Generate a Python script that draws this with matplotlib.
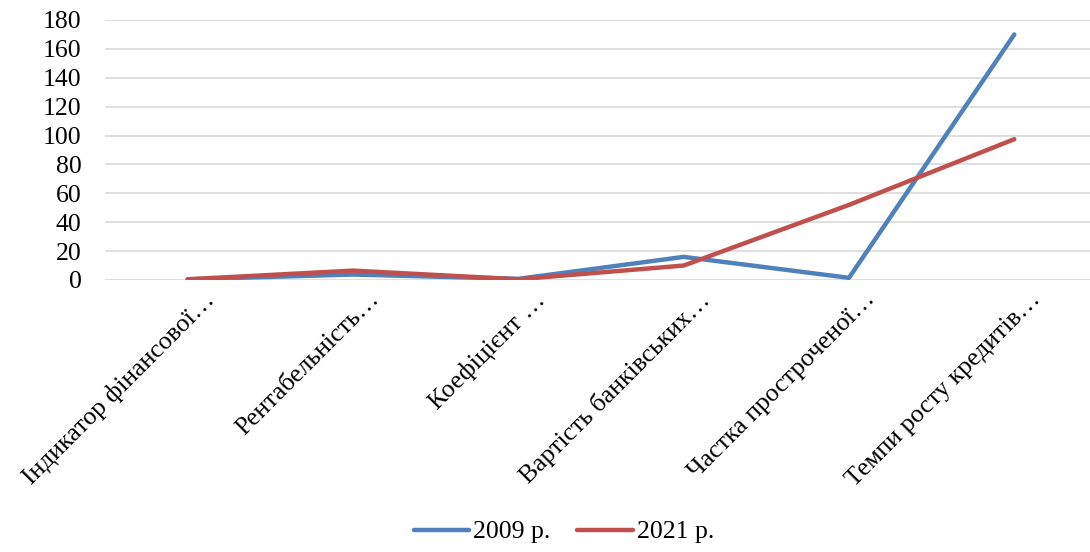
import matplotlib
matplotlib.use("Agg")
import matplotlib.pyplot as plt
import matplotlib.transforms as mtransforms

categories = ["Індикатор фінансової…", "Рентабельність…", "Коефіцієнт …",
              "Вартість банківських…", "Частка простроченої…", "Темпи росту кредитів…"]
series_2009 = [0.5, 3.8, 0.8, 16.0, 1.5, 170.0]
series_2021 = [0.5, 6.5, 0.5, 10.0, 52.0, 97.5]
y_ticks = [0, 20, 40, 60, 80, 100, 120, 140, 160, 180]

plt.rcParams['font.family'] = ['Liberation Serif', 'DejaVu Serif']
FS = 18.5

W, H = 1090, 552
fig = plt.figure(figsize=(W / 100, H / 100), dpi=100)
left, right = 105, 1097
top, bottom = 20, 280
ax = fig.add_axes([left / W, (H - bottom) / H, (right - left) / W, (bottom - top) / H])

x = list(range(len(categories)))
ax.plot(x, series_2009, color='#4F81BD', lw=3.2, solid_capstyle='round', solid_joinstyle='round', label='2009 р.', zorder=3)
ax.plot(x, series_2021, color='#C0504D', lw=3.2, solid_capstyle='round', solid_joinstyle='round', label='2021 р.', zorder=3)

ax.set_xlim(-0.5, len(categories) - 0.5)
ax.set_ylim(0, 180)
ax.set_yticks(y_ticks)
ax.set_yticklabels([str(v) for v in y_ticks], fontsize=FS)
ax.yaxis.grid(True, color='#D9D9D9', lw=1.2, zorder=0)
ax.set_axisbelow(True)
for s in ax.spines.values():
    s.set_visible(False)
ax.tick_params(axis='y', length=0, pad=17)
ax.tick_params(axis='x', length=0, pad=6)

ax.set_xticks(x)
ax.set_xticklabels(categories, fontsize=FS, rotation=45, ha='right', va='top', rotation_mode='anchor')
offset = mtransforms.ScaledTranslation(15 / 100, 0, fig.dpi_scale_trans)
for lab in ax.get_xticklabels():
    lab.set_transform(lab.get_transform() + offset)

leg = fig.legend(loc='center', bbox_to_anchor=(564 / W, 1 - 532 / H), ncol=2, frameon=False,
                 fontsize=FS, handlelength=2.15, handletextpad=0.16, columnspacing=1.05)
for line in leg.get_lines():
    line.set_linewidth(3.2)

fig.savefig('out.png', dpi=100)
